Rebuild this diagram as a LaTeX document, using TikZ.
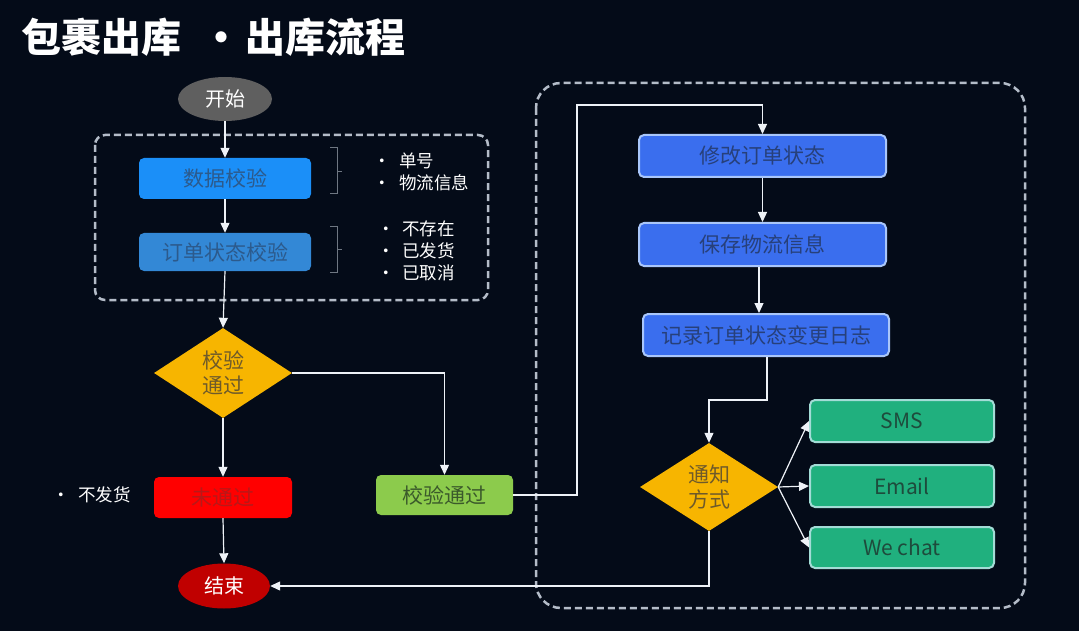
\documentclass[tikz,border=0pt]{standalone}
\usepackage{fontspec}
\setmainfont{Noto Sans CJK SC}
\usetikzlibrary{shapes.geometric,arrows.meta,calc}
\definecolor{bg}{HTML}{040B18}
\definecolor{dashgray}{HTML}{B4BCC8}
\definecolor{startgray}{HTML}{5F5F5F}
\definecolor{datablue}{HTML}{1B8FF8}
\definecolor{datatext}{HTML}{2C5A8C}
\definecolor{statusblue}{HTML}{3388D6}
\definecolor{amber}{HTML}{F7B500}
\definecolor{ambertext}{HTML}{6E5A2A}
\definecolor{failred}{HTML}{FF0000}
\definecolor{failtext}{HTML}{B81818}
\definecolor{passgreen}{HTML}{8CCB4C}
\definecolor{passtext}{HTML}{3B5A2B}
\definecolor{endred}{HTML}{C00000}
\definecolor{modblue}{HTML}{3A6EEE}
\definecolor{modborder}{HTML}{A9C6FA}
\definecolor{modtext}{HTML}{27407A}
\definecolor{teal}{HTML}{20B07E}
\definecolor{tealborder}{HTML}{A3DCD6}
\definecolor{tealtext}{HTML}{1E4B3C}
\definecolor{linecol}{HTML}{EEF2F7}
\definecolor{bracecol}{HTML}{6F7782}
\begin{document}
\begin{tikzpicture}[x=1pt,y=-1pt,
  boxfont/.style={font=\fontsize{21}{25}\selectfont},
  box/.style={rectangle, rounded corners=5pt, inner sep=0pt, boxfont},
  arr/.style={draw=linecol, line width=1.2pt, -{Triangle[width=9pt,length=10pt]}},
  plain/.style={draw=linecol, line width=1.2pt},
  groupbox/.style={draw=dashgray, line width=2.5pt, dash pattern=on 7pt off 4pt},
  bulletlist/.style={anchor=north west, align=left, inner sep=0pt, text=white, font=\fontsize{17.5}{22}\selectfont},
  bracket/.style={draw=bracecol, line width=1pt}
]
\useasboundingbox (0,0) rectangle (1079,631);
\fill[bg] (0,0) rectangle (1079,631);

% title
\node[anchor=west, inner sep=0pt, text=white, font=\fontsize{40}{44}\bfseries\selectfont] (title) at (21,37) {包裹出库\hspace{0.5em}•\hspace{0.1em}出库流程};

% group boxes
\draw[groupbox, rounded corners=10pt] (95,135) rectangle (488,300);
\draw[groupbox, rounded corners=25pt] (536,83) rectangle (1025,608);

% left column
\node[ellipse, fill=startgray, minimum width=94pt, minimum height=44pt, inner sep=0pt, text=white, font=\fontsize{20}{24}\selectfont] (start) at (225,99) {开始};
\node[box, fill=datablue, text=datatext, minimum width=172pt, minimum height=41pt] (data) at (225,178.5) {数据校验};
\node[box, fill=statusblue, text=datatext, minimum width=172pt, minimum height=38pt] (status) at (225,252) {订单状态校验};
\node[diamond, fill=amber, minimum width=138pt, minimum height=90pt, inner sep=0pt] (d1) at (223,373) {};
\node[align=center, text=ambertext, font=\fontsize{21}{25}\selectfont, inner sep=0pt] (d1t) at (d1.center) {校验\\通过};
\node[box, fill=failred, text=failtext, minimum width=138pt, minimum height=41pt] (fail) at (223,497.5) {未通过};
\node[box, fill=passgreen, text=passtext, minimum width=137pt, minimum height=40pt] (pass) at (444.5,495) {校验通过};
\node[ellipse, fill=endred, minimum width=92pt, minimum height=45pt, inner sep=0pt, text=white, font=\fontsize{20}{24}\selectfont] (end) at (224,586) {结束};

% brackets
\draw[bracket] (330,148) -- (337,148) -- (337,194) -- (330,194);
\draw[bracket] (337,172) -- (342,172);
\draw[bracket] (330,227) -- (337,227) -- (337,272) -- (330,272);
\draw[bracket] (337,250) -- (342,250);

% bullet lists
\node[bulletlist] (list1) at (373,153) {\makebox[26pt][l]{•}单号\\\makebox[26pt][l]{•}物流信息};
\node[bulletlist] (list2) at (377,220.5) {\makebox[25pt][l]{•}不存在\\\makebox[25pt][l]{•}已发货\\\makebox[25pt][l]{•}已取消};
\node[bulletlist] (list3) at (52,486.5) {\makebox[26pt][l]{•}不发货};

% right column
\node[box, fill=modblue, draw=modborder, line width=2pt, text=modtext, minimum width=247pt, minimum height=42pt] (mod) at (762.5,156) {修改订单状态};
\node[box, fill=modblue, draw=modborder, line width=2pt, text=modtext, minimum width=247pt, minimum height=43pt] (save) at (762.5,244.5) {保存物流信息};
\node[box, fill=modblue, draw=modborder, line width=2pt, text=modtext, minimum width=246pt, minimum height=42pt] (rec) at (766,335) {记录订单状态变更日志};
\node[diamond, fill=amber, minimum width=138pt, minimum height=88pt, inner sep=0pt] (d2) at (709,487) {};
\node[align=center, text=ambertext, font=\fontsize{21}{25}\selectfont, inner sep=0pt] (d2t) at (d2.center) {通知\\方式};
\node[box, fill=teal, draw=tealborder, line width=2pt, text=tealtext, minimum width=184pt, minimum height=42pt] (sms) at (902,421) {SMS};
\node[box, fill=teal, draw=tealborder, line width=2pt, text=tealtext, minimum width=184pt, minimum height=42pt] (email) at (902,486) {Email};
\node[box, fill=teal, draw=tealborder, line width=2pt, text=tealtext, minimum width=184pt, minimum height=41pt] (wechat) at (902,547.5) {We chat};

% connectors
\draw[arr] (start) -- (data);
\draw[arr] (data) -- (status);
\draw[arr] (status.south) -- (d1.north);
\draw[arr] (d1.east) -| (pass.north);
\draw[arr] (d1.south) -- (fail.north);
\draw[arr] (fail.south) -- (end.north);
\draw[arr] (pass.east) -| (577,105) -| (mod.north);
\draw[arr] (mod) -- (save);
\draw[arr] ([xshift=-3.5pt]save.south) -- ([xshift=-7pt]rec.north);
\draw[arr] ([xshift=1pt]rec.south) -- ++(0,43) -| (d2.north);
\draw[arr] (d2.east) -- (sms.west);
\draw[arr] (d2.east) -- (email.west);
\draw[arr] (d2.east) -- (wechat.west);
\draw[arr] (d2.south) |- (end.east);
\end{tikzpicture}
\end{document}
